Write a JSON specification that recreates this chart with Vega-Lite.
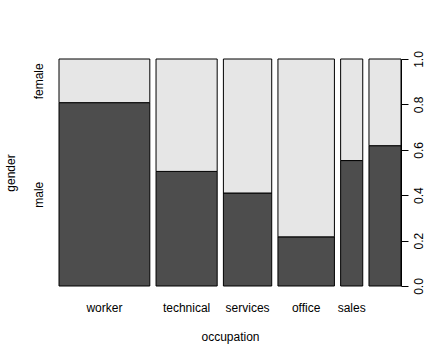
{
  "$schema": "https://vega.github.io/schema/vega-lite/v6.json",
  "width": 342,
  "height": 227,
  "autosize": "none",
  "padding": {"left": 59, "top": 59, "right": 31, "bottom": 74},
  "background": "white",
  "config": {
    "view": {"stroke": null},
    "font": "Liberation Sans",
    "axis": {"labelFont": "Liberation Sans", "titleFont": "Liberation Sans", "labelFontSize": 12, "titleFontSize": 12, "titleFontWeight": "normal", "labelColor": "black", "titleColor": "black", "grid": false}
  },
  "data": {"values": [
    {"occupation": "worker", "occ_i": 0, "gender": "male", "count": 126},
    {"occupation": "worker", "occ_i": 0, "gender": "female", "count": 30},
    {"occupation": "technical", "occ_i": 1, "gender": "male", "count": 53},
    {"occupation": "technical", "occ_i": 1, "gender": "female", "count": 52},
    {"occupation": "services", "occ_i": 2, "gender": "male", "count": 34},
    {"occupation": "services", "occ_i": 2, "gender": "female", "count": 49},
    {"occupation": "office", "occ_i": 3, "gender": "male", "count": 21},
    {"occupation": "office", "occ_i": 3, "gender": "female", "count": 76},
    {"occupation": "sales", "occ_i": 4, "gender": "male", "count": 21},
    {"occupation": "sales", "occ_i": 4, "gender": "female", "count": 17},
    {"occupation": "management", "occ_i": 5, "gender": "male", "count": 34},
    {"occupation": "management", "occ_i": 5, "gender": "female", "count": 21}
  ]},
  "transform": [
    {"stack": "count", "groupby": ["occupation"], "sort": [{"field": "gender", "order": "descending"}], "offset": "normalize", "as": ["y0", "y1"]},
    {"stack": "count", "groupby": [], "sort": [{"field": "occ_i", "order": "ascending"}, {"field": "gender", "order": "descending"}], "offset": "normalize", "as": ["c0", "c1"]},
    {"joinaggregate": [{"op": "min", "field": "c0", "as": "xs0"}, {"op": "max", "field": "c1", "as": "xs1"}], "groupby": ["occupation"]},
    {"calculate": "datum.xs0 + datum.occ_i * 0.02", "as": "x0"},
    {"calculate": "datum.xs1 + datum.occ_i * 0.02", "as": "x1"},
    {"calculate": "(datum.x0 + datum.x1) / 2", "as": "xm"}
  ],
  "layer": [
    {
      "mark": {"type": "rect", "stroke": "#000000", "strokeWidth": 1},
      "encoding": {
        "x": {"field": "x0", "type": "quantitative", "scale": {"domain": [0, 1.1], "nice": false, "zero": false}, "axis": {"title": "occupation", "labels": false, "ticks": false, "domain": false, "titlePadding": 45}},
        "x2": {"field": "x1"},
        "y": {"field": "y0", "type": "quantitative", "scale": {"domain": [0, 1], "nice": false}, "axis": {"orient": "left", "title": "gender", "values": [0.404, 0.904], "labelExpr": "datum.value < 0.5 ? 'male' : 'female'", "ticks": false, "domain": false, "labelAngle": -90, "labelPadding": 14, "titlePadding": 15}},
        "y2": {"field": "y1"},
        "fill": {"field": "gender", "type": "nominal", "scale": {"domain": ["male", "female"], "range": ["#4d4d4d", "#e6e6e6"]}, "legend": null}
      }
    },
    {
      "transform": [{"filter": "datum.gender == 'male' && datum.occupation != 'management'"}],
      "mark": {"type": "text", "fontSize": 12, "font": "Liberation Sans", "color": "black", "dy": 22, "baseline": "middle", "align": "center"},
      "encoding": {
        "x": {"field": "xm", "type": "quantitative"},
        "y": {"datum": 0, "type": "quantitative", "scale": {"domain": [0, 1], "nice": false}, "axis": null},
        "text": {"field": "occupation"}
      }
    },
    {
      "mark": {"type": "rule", "opacity": 0},
      "encoding": {
        "y": {"field": "y0", "type": "quantitative", "scale": {"domain": [0, 1], "nice": false}, "axis": {"orient": "right", "title": null, "values": [0, 0.2, 0.4, 0.6, 0.8, 1.0], "format": ".1f", "labelAngle": -90, "tickSize": 7, "tickColor": "black", "domainColor": "black", "labelPadding": 5, "labelAlign": "center", "labelBaseline": "top"}}
      }
    }
  ],
  "resolve": {"scale": {"y": "independent"}}
}
